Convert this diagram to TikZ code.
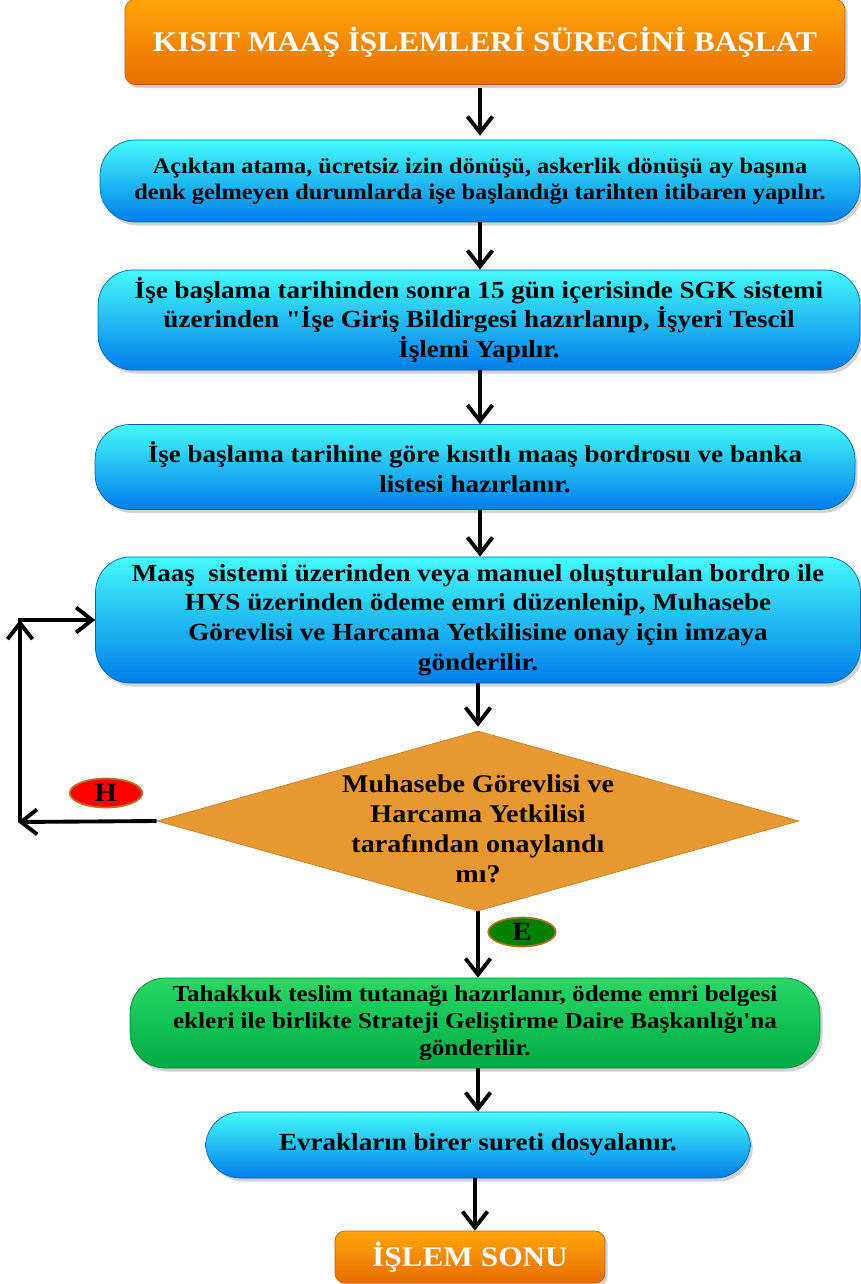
\documentclass[tikz,border=0pt]{standalone}
\usepackage{fontspec}
\setmainfont{Liberation Serif}[FakeStretch=1.1,Ligatures=TeXOff]
\usepackage{tikz}
\usetikzlibrary{shapes.geometric,arrows.meta,shadows,calc}
\definecolor{cyantop}{RGB}{70,250,250}
\definecolor{bluebot}{RGB}{0,125,235}
\definecolor{grntop}{RGB}{40,215,100}
\definecolor{grnbot}{RGB}{0,170,70}
\definecolor{orgtop}{RGB}{255,165,10}
\definecolor{orgbot}{RGB}{232,110,0}
\definecolor{diafill}{RGB}{232,152,50}
\definecolor{tagline}{RGB}{185,115,30}
\begin{document}
\begin{tikzpicture}[x=0.02cm,y=-0.02cm,font=\bfseries,
  pill/.style={rounded corners=0.7cm,align=center,inner sep=4pt,
    top color=cyantop,bottom color=bluebot,draw=bluebot!80!black,line width=0.4pt,
    drop shadow={opacity=0.35,shadow xshift=1.5pt,shadow yshift=-2pt},font=\fontsize{14}{17}\selectfont\bfseries},
  greenpill/.style={pill,top color=grntop,bottom color=grnbot,draw=grnbot!80!black,
    font=\fontsize{13}{15.5}\selectfont\bfseries},
  term/.style={rounded corners=0.2cm,align=center,text=white,
    top color=orgtop,bottom color=orgbot,draw=orgbot!85!black,line width=0.4pt,
    drop shadow={opacity=0.35,shadow xshift=1.5pt,shadow yshift=-2pt},
    font=\fontsize{16.2}{20}\selectfont\bfseries},
  ask/.style={diamond,aspect=3.57,fill=diafill,draw=diafill!85!black,inner sep=-25pt,align=center,
    font=\fontsize{14.5}{17}\selectfont\bfseries},
  tag/.style={ellipse,draw=tagline,line width=1pt,inner sep=0pt,
    minimum width=1.45cm,minimum height=0.58cm,font=\fontsize{15}{15}\selectfont\bfseries},
  arr/.style={-{Straight Barb[length=3.2mm,width=5mm]},line width=2.2pt}]
\useasboundingbox (0,0) rectangle (861,1284);

\node[term,minimum width=14.4cm,minimum height=1.7cm] (start) at (485,42)
 {KISIT MAAŞ İŞLEMLERİ SÜRECİNİ BAŞLAT};
\node[pill,minimum width=15.2cm,minimum height=1.64cm,font=\fontsize{12.6}{15}\selectfont\bfseries] (b1) at (480,181)
 {Açıktan atama, ücretsiz izin dönüşü, askerlik dönüşü ay başına\\
  denk gelmeyen durumlarda işe başlandığı tarihten itibaren yapılır.};
\node[pill,minimum width=15.24cm,minimum height=2cm] (b2) at (479,320)
 {İşe başlama tarihinden sonra 15 gün içerisinde SGK sistemi\\
  üzerinden "İşe Giriş Bildirgesi hazırlanıp, İşyeri Tescil\\
  İşlemi Yapılır.};
\node[pill,minimum width=15.2cm,minimum height=1.7cm] (b3) at (475,467)
 {İşe başlama tarihine göre kısıtlı maaş bordrosu ve banka\\
  listesi hazırlanır.};
\node[pill,minimum width=15.3cm,minimum height=2.4cm] (b4) at (478,620)
 {Maaş\ \ sistemi üzerinden veya manuel oluşturulan bordro ile\\
  HYS üzerinden ödeme emri düzenlenip, Muhasebe\\
  Görevlisi ve Harcama Yetkilisine onay için imzaya\\
  gönderilir.};
\node[ask,minimum width=12.84cm,minimum height=3.6cm] (q) at (478,821)
 {\rule{0pt}{19pt}Muhasebe Görevlisi ve\\Harcama Yetkilisi\\tarafından onaylandı\\mı?};
\node[tag,fill=red] (no) at (106,793) {H};
\node[tag,fill=green!50!black,minimum width=1.35cm] (yes) at (522,932) {E};
\node[greenpill,minimum width=13.8cm,minimum height=1.8cm] (b5) at (475,1023)
 {Tahakkuk teslim tutanağı hazırlanır, ödeme emri belgesi\\
  ekleri ile birlikte Strateji Geliştirme Daire Başkanlığı'na\\
  gönderilir.};
\node[pill,minimum width=10.9cm,minimum height=1.32cm] (b6) at (478,1145)
 {Evrakların birer sureti dosyalanır.};
\node[term,minimum width=5.4cm,minimum height=1.04cm] (stop) at (470,1257)
 {İŞLEM SONU};

\coordinate (loopb) at (18,822);
\coordinate (loopt) at (loopb |- b4.west);
\draw[arr] (start.south) ++(-5,3) -- ($(start.south |- b1.north)+(-5,-4)$);
\draw[arr] (b1.south) -- (b1.south |- b2.north);
\draw[arr] (b2.south) ++(1,0) -- ($(b2.south |- b3.north)+(1,0)$);
\draw[arr] (b3.south) ++(5,0) -- ($(b3.south |- b4.north)+(5,0)$);
\draw[arr] (b4.south) -- ($(b4.south |- q.north)+(0,-4)$);
\draw[arr] (q.south) -- (q.south |- b5.north);
\draw[arr] (b5.south) ++(3,0) -- ($(b5.south |- b6.north)+(3,0)$);
\draw[arr] (b6.south) ++(-3,0) -- ($(b6.south |- stop.north)+(-3,0)$);
\draw[arr] (q.west) -- (loopb);
\draw[arr] ($(loopb)+(2,0)$) -- ($(loopt)+(2,0)$);
\draw[arr] (loopt) -- (b4.west);
\end{tikzpicture}
\end{document}
